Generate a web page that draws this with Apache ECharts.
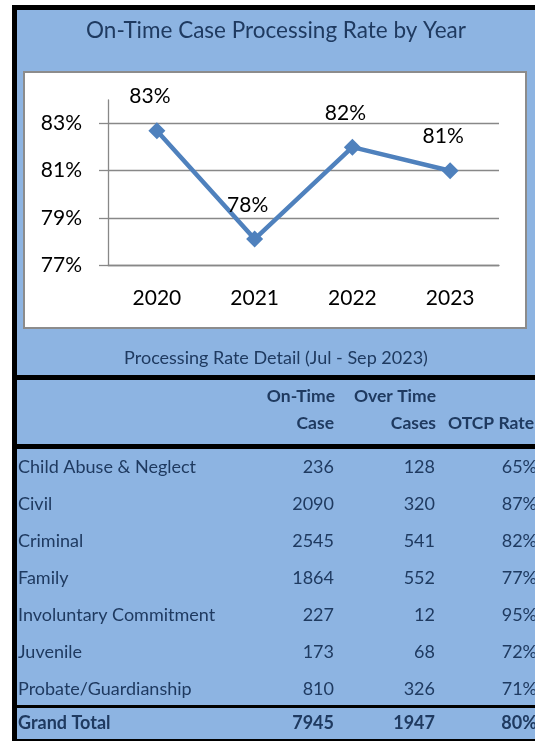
<!DOCTYPE html>
<html>
<head>
<meta charset="utf-8">
<script src="https://cdn.jsdelivr.net/npm/echarts@6/dist/echarts.min.js"></script>
<style>
html, body { margin: 0; padding: 0; background: #fff; }
#main { width: 535px; height: 741px; }
</style>
</head>
<body>
<div id="main"></div>
<script>
// yearly on-time rate (line chart)
var years = ['2020', '2021', '2022', '2023'];
var rateByYear = [82.7, 78.1, 82.0, 81.0];
var yTicks = [77, 79, 81, 83];

// detail table (Jul - Sep 2023)
var caseTypes = ['Child Abuse & Neglect', 'Civil', 'Criminal', 'Family', 'Involuntary Commitment', 'Juvenile', 'Probate/Guardianship'];
var onTimeCases = [236, 2090, 2545, 1864, 227, 173, 810];
var overTimeCases = [128, 320, 541, 552, 12, 68, 326];
var otcpRates = ['65%', '87%', '82%', '77%', '95%', '72%', '71%'];
var grandTotal = ['Grand Total', 7945, 1947, '80%'];

var FONT = 'Lato, "Open Sans", sans-serif';
var BLUE = '#8DB4E2';
var NAVY = '#1F3A60';

var myChart = echarts.init(document.getElementById('main'));

function txt(s, x, y, align, size, bold) {
    return {
        type: 'text', x: x, y: y, z: 10,
        style: {
            text: String(s), fill: NAVY,
            fontFamily: FONT, fontSize: size,
            fontWeight: bold ? 'bold' : 'normal',
            align: align, verticalAlign: 'middle'
        }
    };
}

var els = [
    // frame and backgrounds
    {type: 'rect', z: -10, shape: {x: 17, y: 10, width: 518, height: 731}, style: {fill: BLUE}},
    {type: 'rect', z: -9, shape: {x: 12, y: 5, width: 523, height: 5}, style: {fill: '#000'}},
    {type: 'rect', z: -9, shape: {x: 12, y: 5, width: 5, height: 736}, style: {fill: '#000'}},
    {type: 'rect', z: -9, shape: {x: 24, y: 72, width: 502, height: 256}, style: {fill: '#fff', stroke: '#8c8c8c', lineWidth: 2}},
    {type: 'rect', z: -9, shape: {x: 12, y: 375, width: 523, height: 5}, style: {fill: '#000'}},
    {type: 'rect', z: -9, shape: {x: 12, y: 444, width: 523, height: 5}, style: {fill: '#000'}},
    {type: 'rect', z: -9, shape: {x: 12, y: 705, width: 523, height: 3}, style: {fill: '#000'}},
    {type: 'rect', z: -9, shape: {x: 12, y: 739, width: 523, height: 2}, style: {fill: '#000'}},
    // header
    txt('On-Time', 335, 396, 'right', 17.5, true),
    txt('Case', 334, 423, 'right', 17.5, true),
    txt('Over Time', 436, 396, 'right', 17.5, true),
    txt('Cases', 436, 423, 'right', 17.5, true),
    txt('OTCP Rate', 448, 423, 'left', 17.5, true)
];

var rowY0 = 467, rowH = 37;
for (var i = 0; i < caseTypes.length; i++) {
    var y = rowY0 + i * rowH;
    els.push(txt(caseTypes[i], 18, y, 'left', 18, false));
    els.push(txt(onTimeCases[i], 334, y, 'right', 18, false));
    els.push(txt(overTimeCases[i], 435, y, 'right', 18, false));
    els.push(txt(otcpRates[i], 537, y, 'right', 18, false));
}
els.push(txt(grandTotal[0], 18, 723, 'left', 18, true));
els.push(txt(grandTotal[1], 334, 723, 'right', 18, true));
els.push(txt(grandTotal[2], 435, 723, 'right', 18, true));
els.push(txt(grandTotal[3], 537, 723, 'right', 18, true));

option = {
    animation: false,
    title: [{
        text: 'On-Time Case Processing Rate by Year',
        left: 271, top: 14, textAlign: 'center',
        textStyle: {fontFamily: FONT, fontSize: 22.5, fontWeight: 'normal', color: NAVY}
    }, {
        text: 'Processing Rate Detail (Jul - Sep 2023)',
        left: 271, top: 344, textAlign: 'center',
        textStyle: {fontFamily: FONT, fontSize: 18, fontWeight: 'normal', color: NAVY}
    }],
    graphic: {elements: els},
    grid: {left: 108, right: 36, top: 100, bottom: 476},
    xAxis: {
        type: 'category',
        data: years,
        axisLine: {lineStyle: {color: '#888', width: 1.3}},
        axisTick: {length: 9, lineStyle: {color: '#888', width: 1.3}},
        axisLabel: {margin: 23, color: '#000', fontFamily: FONT, fontSize: 21}
    },
    yAxis: {
        type: 'value',
        min: 77, max: 84, interval: 2,
        axisLine: {show: true, lineStyle: {color: '#888', width: 1.3}},
        axisTick: {show: true, length: 9, customValues: yTicks, lineStyle: {color: '#888', width: 1.3}},
        axisLabel: {
            margin: 26, color: '#000', fontFamily: FONT, fontSize: 21,
            customValues: yTicks,
            formatter: '{value}%'
        },
        splitLine: {show: true, lineStyle: {color: '#888', width: 1.3}}
    },
    series: [{
        type: 'line',
        data: rateByYear,
        color: '#4F81BD',
        lineStyle: {width: 4.5},
        symbol: 'diamond',
        symbolSize: 17,
        itemStyle: {color: '#4F81BD'},
        label: {
            show: true,
            position: 'top',
            distance: 15,
            offset: [-7, 0],
            color: '#000',
            fontFamily: FONT,
            fontSize: 21,
            formatter: function (p) { return Math.round(p.value) + '%'; }
        }
    }]
};
myChart.setOption(option);
</script>
</body>
</html>
